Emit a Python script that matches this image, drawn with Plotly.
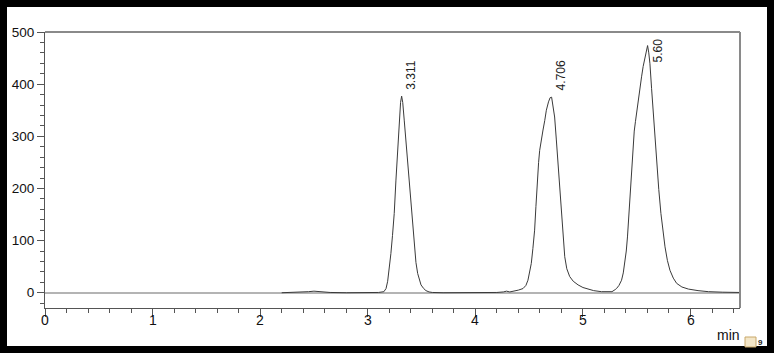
import plotly.graph_objects as go

# ---- data ----
time_min = [2.20, 2.35, 2.45, 2.50, 2.55, 2.65, 2.80, 3.00, 3.10, 3.15, 3.17, 3.185,
            3.20, 3.215, 3.23, 3.246, 3.262, 3.278, 3.293, 3.305, 3.315, 3.325, 3.339,
            3.355, 3.371, 3.387, 3.402, 3.417, 3.432, 3.448, 3.464, 3.48, 3.495, 3.52,
            3.541, 3.57, 3.60, 3.70, 4.00, 4.20, 4.26, 4.29, 4.32, 4.365, 4.40, 4.443,
            4.47, 4.489, 4.505, 4.520, 4.535, 4.551, 4.563, 4.576, 4.588, 4.598, 4.612,
            4.629, 4.645, 4.66, 4.68, 4.695, 4.709, 4.722, 4.737, 4.753, 4.769, 4.785,
            4.800, 4.815, 4.831, 4.85, 4.877, 4.91, 4.955, 5.00, 5.048, 5.10, 5.172,
            5.24, 5.27, 5.30, 5.312, 5.335, 5.359, 5.375, 5.390, 5.403, 5.414, 5.425,
            5.436, 5.447, 5.458, 5.467, 5.477, 5.488, 5.499, 5.515, 5.530, 5.545, 5.560,
            5.576, 5.590, 5.601, 5.612, 5.623, 5.638, 5.654, 5.670, 5.685, 5.705, 5.725,
            5.745, 5.763, 5.785, 5.809, 5.84, 5.871, 5.92, 5.98, 6.07, 6.167, 6.30, 6.46]
signal = [0, 0.5, 2, 3, 2, 0.5, 0, 0, 0.5, 2, 8, 22,
          45, 75, 110, 152, 216, 275, 331, 365, 377, 365, 331,
          290, 248, 205, 165, 125, 88, 58, 37, 24, 15, 8,
          4, 1.5, 0.5, 0, 0, 0.5, 1.5, 3, 1.5, 3, 5, 8,
          14, 24, 38, 56, 85, 120, 165, 216, 250, 273, 295,
          312, 330, 350, 366, 374, 375, 360, 337, 293, 248, 200,
          152, 108, 69, 46, 31, 22, 15, 10, 7, 4, 2,
          1, 2, 6, 8, 14, 24, 38, 56, 80, 107, 145,
          184, 222, 261, 288, 310, 328, 346, 370, 393, 414, 434,
          452, 466, 474, 460, 439, 392, 344, 295, 248, 198, 152,
          115, 88, 62, 43, 28, 18, 11, 7, 4, 2, 1, 0.5]

peak_times = [3.311, 4.706, 5.60]
peak_labels = ["3.311", "4.706", "5.60"]
label_levels = [385, 385, 437]

x_ticks = [0, 1, 2, 3, 4, 5, 6]
y_ticks = [0, 100, 200, 300, 400, 500]

W, H = 774, 353
ML, MR, MT, MB = 45, 34, 32, 45
PW, PH = W - ML - MR, H - MT - MB

def px_x(p):
    return (p - ML) / PW

def px_y(p):
    return (H - MB - p) / PH

FONT = "Liberation Sans, Arial, sans-serif"

fig = go.Figure()
fig.add_trace(go.Scatter(x=time_min, y=signal, mode="lines",
                         line=dict(color="#3a3a3a", width=1), hoverinfo="skip",
                         showlegend=False))

annotations = []
for t, lab, lv in zip(peak_times, peak_labels, label_levels):
    annotations.append(dict(x=t + 0.094, y=lv, xref="x", yref="y", text=lab,
                            showarrow=False, textangle=-90, xanchor="center",
                            yanchor="bottom", font=dict(family=FONT, size=12, color="#222")))
# x tick labels placed close under the ticks
for v in x_ticks:
    annotations.append(dict(x=v, y=px_y(310), xref="x", yref="paper", text=str(v),
                            showarrow=False, xanchor="center", yanchor="top",
                            font=dict(family=FONT, size=14, color="#111")))
annotations.append(dict(x=px_x(742), y=px_y(335), xref="paper", yref="paper", text="min",
                        showarrow=False, xanchor="right", yanchor="middle",
                        font=dict(family=FONT, size=14, color="#111")))
annotations.append(dict(x=px_x(760), y=px_y(342), xref="paper", yref="paper", text="<b>9</b>",
                        showarrow=False, xanchor="center", yanchor="middle",
                        font=dict(family=FONT, size=8, color="#222")))

shapes = []
# black outer frame
frame = [(0, 0, 7, H), (0, 0, W, 7), (W - 7, 0, W, H), (0, H - 7, W, H)]
for x0, y0, x1, y1 in frame:
    shapes.append(dict(type="rect", xref="paper", yref="paper",
                       x0=px_x(x0), x1=px_x(x1), y0=px_y(y1), y1=px_y(y0),
                       fillcolor="black", line=dict(width=0), layer="above"))
# gray top / right border of plot box
shapes.append(dict(type="line", xref="paper", yref="paper", x0=0, x1=1, y0=1, y1=1,
                   line=dict(color="#8a8a8a", width=2)))
shapes.append(dict(type="line", xref="paper", yref="paper", x0=1, x1=1, y0=0, y1=1,
                   line=dict(color="#8a8a8a", width=2)))
# tiny icon at bottom right
shapes.append(dict(type="rect", xref="paper", yref="paper",
                   x0=px_x(745), x1=px_x(756), y0=px_y(347), y1=px_y(337),
                   fillcolor="#f3e6c8", line=dict(color="#c9a86a", width=1)))

fig.update_layout(
    width=W, height=H, margin=dict(l=ML, r=MR, t=MT, b=MB),
    paper_bgcolor="white", plot_bgcolor="white",
    font=dict(family=FONT, size=13, color="#111"),
    annotations=annotations, shapes=shapes,
    xaxis=dict(range=[0, 6.46], tickvals=x_ticks, showticklabels=False,
               ticks="outside", ticklen=8, tickcolor="#555", tickwidth=1,
               showline=True, linecolor="#555", linewidth=1, showgrid=False,
               zeroline=False,
               minor=dict(dtick=0.2, tick0=0, ticks="outside", ticklen=4,
                          tickcolor="#555", showgrid=False)),
    yaxis=dict(range=[-29.3, 500], tickvals=y_ticks, ticktext=[str(v) for v in y_ticks],
               ticks="outside", ticklen=7, tickcolor="#555", tickwidth=1,
               showline=True, linecolor="#555", linewidth=1, showgrid=False,
               zeroline=True, zerolinecolor="#b4b4b4", zerolinewidth=2,
               tickfont=dict(size=13.5),
               minor=dict(dtick=20, tick0=0, ticks="outside", ticklen=4,
                          tickcolor="#555", showgrid=False)),
)

fig.write_html("out.html")
